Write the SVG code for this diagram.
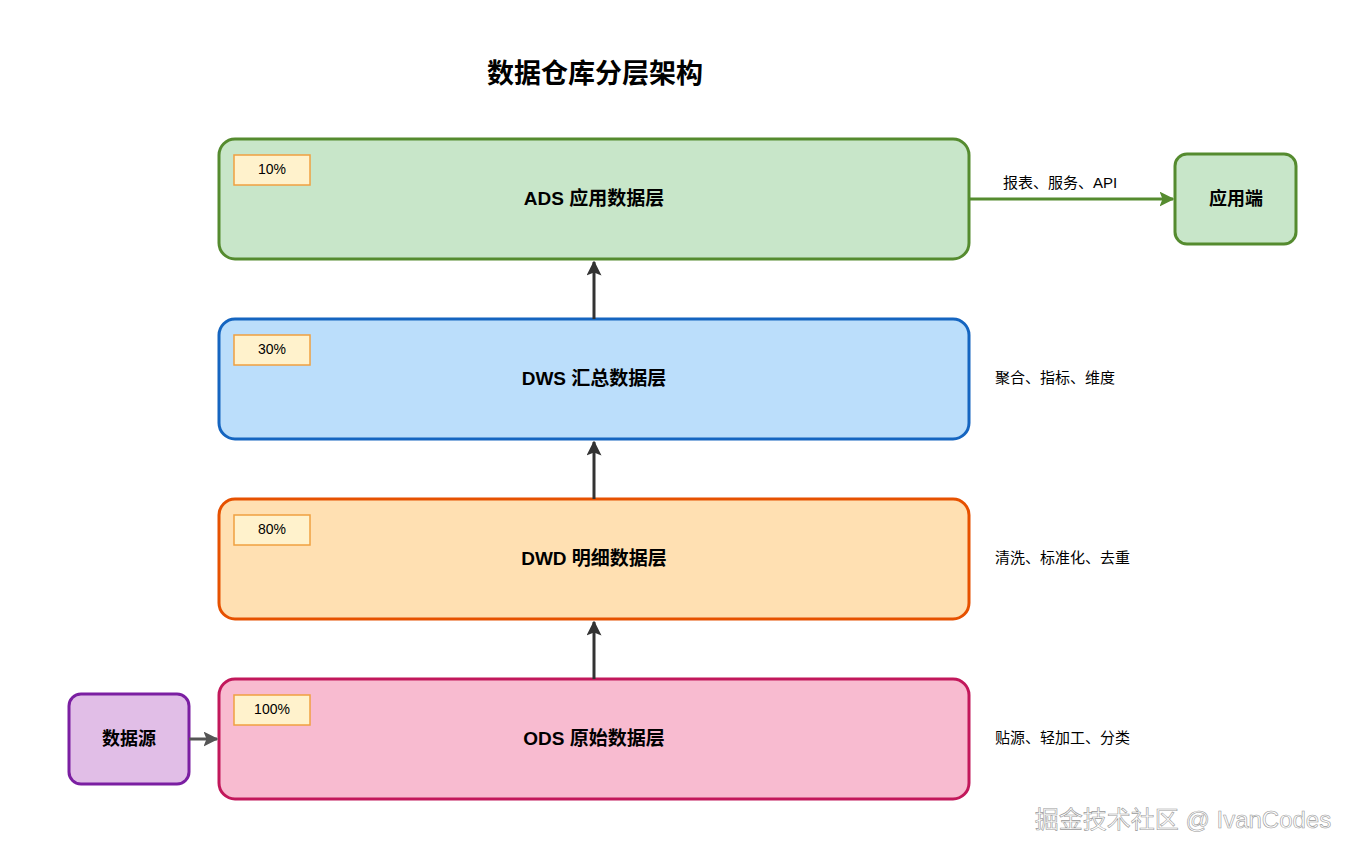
<svg xmlns="http://www.w3.org/2000/svg" width="1362" height="860" viewBox="0 0 1362 860">
<style>
text{font-family:"Liberation Sans","Noto Sans CJK SC",sans-serif;fill:#000}
.t{font-size:19px;font-weight:bold;text-anchor:middle;dominant-baseline:middle}
.b{fill:#fff2cc;stroke:#f0a040;stroke-width:1.5}
.bt{font-size:14px;text-anchor:middle;dominant-baseline:middle}
.l{font-size:15px;dominant-baseline:middle}
.L{stroke-width:3}
</style>
<defs>
<marker id="ad" viewBox="0 0 10 10" refX="9" refY="5" markerWidth="5" markerHeight="5" orient="auto"><path d="M0,0L10,5L0,10L2,5z" fill="#333"/></marker>
<marker id="ag" viewBox="0 0 10 10" refX="9" refY="5" markerWidth="5" markerHeight="5" orient="auto"><path d="M0,0L10,5L0,10L2,5z" fill="#558b2f"/></marker>
<marker id="ap" viewBox="0 0 10 10" refX="9" refY="5" markerWidth="5" markerHeight="5" orient="auto"><path d="M0,0L10,5L0,10L2,5z" fill="#555"/></marker>
</defs>
<rect width="1362" height="860" fill="#fff"/>
<text x="595" y="76" class="t" style="font-size:27px">数据仓库分层架构</text>
<g id="ads"><rect x="219" y="139" width="750" height="120" rx="16" fill="#c8e6c9" stroke="#558b2f" class="L"/><rect x="234" y="155" width="76" height="30" class="b"/><text x="272" y="170" class="bt">10%</text><text x="594" y="200" class="t">ADS 应用数据层</text></g>
<g id="dws"><rect x="219" y="319" width="750" height="120" rx="16" fill="#bbdefb" stroke="#1565c0" class="L"/><rect x="234" y="335" width="76" height="30" class="b"/><text x="272" y="350" class="bt">30%</text><text x="594" y="380" class="t">DWS 汇总数据层</text></g>
<g id="dwd"><rect x="219" y="499" width="750" height="120" rx="16" fill="#ffe0b2" stroke="#e65100" class="L"/><rect x="234" y="515" width="76" height="30" class="b"/><text x="272" y="530" class="bt">80%</text><text x="594" y="560" class="t">DWD 明细数据层</text></g>
<g id="ods"><rect x="219" y="679" width="750" height="120" rx="16" fill="#f8bbd0" stroke="#c2185b" class="L"/><rect x="234" y="695" width="76" height="30" class="b"/><text x="272" y="710" class="bt">100%</text><text x="594" y="740" class="t">ODS 原始数据层</text></g>
<g id="src"><rect x="69" y="694" width="120" height="90" rx="12" fill="#e1bee7" stroke="#7b1fa2" class="L"/><text x="129" y="740" class="t" style="font-size:18px">数据源</text></g>
<g id="app"><rect x="1175" y="154" width="121" height="90" rx="12" fill="#c8e6c9" stroke="#558b2f" class="L"/><text x="1236" y="200" class="t" style="font-size:18px">应用端</text></g>
<g id="labels">
<text x="1003" y="184" class="l">报表、服务、API</text>
<text x="995" y="379" class="l">聚合、指标、维度</text>
<text x="995" y="559" class="l">清洗、标准化、去重</text>
<text x="995" y="739" class="l">贴源、轻加工、分类</text>
</g>
<g id="connectors" fill="none">
<path d="M594,679V622" stroke="#333" class="L" marker-end="url(#ad)"/>
<path d="M594,499V442" stroke="#333" class="L" marker-end="url(#ad)"/>
<path d="M594,319V262" stroke="#333" class="L" marker-end="url(#ad)"/>
<path d="M189,739H217" stroke="#555" class="L" marker-end="url(#ap)"/>
<path d="M969,199H1173" stroke="#558b2f" class="L" marker-end="url(#ag)"/>
</g>
<text x="1183" y="822" style="font-size:24px;fill:#fff;stroke:#999;stroke-width:0.6;text-anchor:middle;dominant-baseline:middle">掘金技术社区 @ IvanCodes</text>
</svg>
